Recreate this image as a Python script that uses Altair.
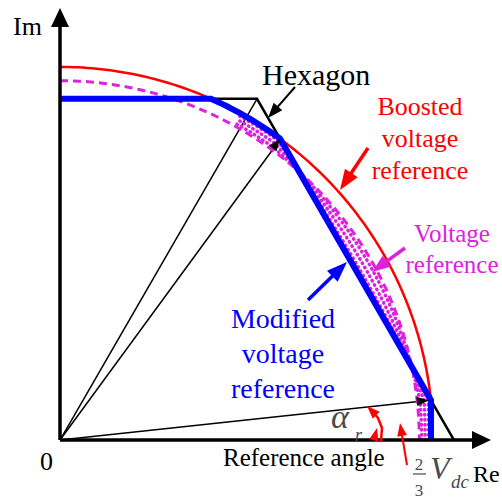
import numpy as np
import pandas as pd
import altair as alt

# ---------------- data (unit: 2/3 Vdc = 1) ----------------
hex_x = [0.0, 0.5, 1.0]          # hexagon boundary (first sector)
hex_y = [0.866, 0.866, 0.0]
R_boost = 0.947                  # boosted voltage reference radius
R_ref = 0.912                    # voltage reference radius
ref_range = [0.0, 90.0]          # degrees
band_range = [0.0, 61.0]         # shaded region (degrees)
band_fracs = [0.2, 0.5, 0.8]

# canvas / pixel mapping of the reference drawing
W, H = 502, 501
OX, OY, U = 60.0, 440.0, 394.0   # origin pixel, pixels per unit


def P(x, y):
    return ((x - OX) / U, (OY - y) / U)


xs = alt.Scale(domain=[P(0, 0)[0], P(W, 0)[0]], nice=False, zero=False)
ys = alt.Scale(domain=[P(0, H)[1], P(0, 0)[1]], nice=False, zero=False)
X = lambda: alt.X("x:Q", scale=xs, axis=None)
Y = lambda: alt.Y("y:Q", scale=ys, axis=None)

HEAD = "M0,0L-0.75,2L0.75,2Z"
AXHEAD = "M0,0L-0.95,2L0.95,2Z"
FONT = "Liberation Serif"

# annotation geometry (pixel readings)
im_axis = [(60, 440), (60, 24)]
re_axis = [(60, 440), (476, 440)]
im_tip = (60, 8)
re_tip = (491, 440)
hex_arrow = [(295, 87), (268, 118)]
boost_arrow = [(368, 148), (340, 190)]
ref_arrow = [(405, 248), (372, 272)]
mod_arrow = [(308, 300), (347, 262)]
up_arrow = [(407, 465), (400, 423)]
alpha_arc = [(381, 441), (382, 428), (378, 418), (372, 411)]
alpha_tip = (367, 406)


def pdf(xx, yy, g=0):
    return pd.DataFrame({"x": list(xx), "y": list(yy), "o": list(range(len(xx))), "g": g})


def line(df, color, width, dash=None, cap="butt", join="miter"):
    kw = dict(color=color, strokeWidth=width, strokeCap=cap, strokeJoin=join)
    if dash:
        kw["strokeDash"] = dash
    return alt.Chart(df).mark_line(**kw).encode(x=X(), y=Y(), order="o:Q", detail="g:N")


def heads(rows, color, shape=HEAD):
    df = pd.DataFrame(rows, columns=["x", "y", "dx", "dy", "s"])
    df["a"] = np.degrees(np.arctan2(df.dx, df.dy)) % 360
    return alt.Chart(df).mark_point(shape=shape, filled=True, opacity=1, color=color,
                                    strokeWidth=0).encode(
        x=X(), y=Y(), angle=alt.Angle("a:Q", scale=None), size=alt.Size("s:Q", scale=None))


def text(rows, color, size, style="normal", align="left"):
    df = pd.DataFrame([(P(a, b)[0], P(a, b)[1], t) for a, b, t in rows], columns=["x", "y", "t"])
    return alt.Chart(df).mark_text(align=align, baseline="alphabetic", font=FONT,
                                   fontSize=size, fontStyle=style, color=color).encode(
        x=X(), y=Y(), text="t:N")


def arrow(pts, color, width, hsize):
    (tx, ty), (hx, hy) = P(*pts[0]), P(*pts[1])
    dx, dy = hx - tx, hy - ty
    n = np.hypot(dx, dy)
    back = np.sqrt(hsize) / U * 0.6
    ex, ey = hx - dx / n * back, hy - dy / n * back
    return [line(pdf([tx, ex], [ty, ey]), color, width),
            heads([(hx, hy, dx, dy, hsize)], color)]


# ---------------- geometry ----------------
inr = hex_y[0]
th_top = np.degrees(np.arcsin(inr / R_boost))
dd = np.degrees(np.arccos(inr / R_boost))
th_a, th_b = 30 + dd, 30 - dd
xb = R_boost * np.cos(np.radians(th_b))
yb = R_boost * np.sin(np.radians(th_b))
xa = R_boost * np.cos(np.radians(th_a))
ya = R_boost * np.sin(np.radians(th_a))

arc = np.radians(np.linspace(th_top, th_a, 30))
blue_x = [0.0] + list(R_boost * np.cos(arc)) + [xb, xb]
blue_y = [inr] + list(R_boost * np.sin(arc)) + [yb, 0.0]

ra = np.radians(np.linspace(90, th_b, 120))
red_x, red_y = R_boost * np.cos(ra), R_boost * np.sin(ra)

ma = np.radians(np.linspace(ref_range[1], ref_range[0], 120))
mag_x, mag_y = R_ref * np.cos(ma), R_ref * np.sin(ma)


def r_blue(t):
    tr = np.radians(t)
    return np.where(t <= th_b, xb / np.cos(tr),
                    np.where(t < th_a, inr / np.cos(tr - np.radians(30)), R_boost))


bt = np.linspace(band_range[0], band_range[1], 150)
band = []
for i, f in enumerate(band_fracs):
    r = R_ref + f * (r_blue(bt) - R_ref)
    band.append(pdf(r * np.cos(np.radians(bt)), r * np.sin(np.radians(bt)), g=i))
band_df = pd.concat(band)

RED, BLUE, MAG, GRAY = "#ff0000", "#0000ff", "#dd22dd", "#4a4a4a"

layers = []
# thin lines from origin
thin = pd.concat([pdf([0, hex_x[1]], [0, hex_y[1]], 0),
                  pdf([0, xa - 0.01], [0, ya - 0.016], 1),
                  pdf([0, xb - 0.02], [0, yb - 0.002], 2)])
layers.append(line(thin, "black", 1.5))
layers.append(line(pdf(hex_x, hex_y), "black", 2.5))
layers.append(line(band_df, MAG, 3.5, dash=[0.5, 4.5], cap="round"))
layers.append(line(pdf(mag_x, mag_y), MAG, 3, dash=[8, 5]))
layers.append(line(pdf(red_x, red_y), RED, 2.5))
layers.append(line(pdf(blue_x, blue_y), BLUE, 6))
layers.append(heads([(xa, ya, xa, ya, 150), (xb - 0.005, yb, xb, yb, 150)], "black"))

# axes
layers.append(line(pdf(*zip(*[P(*p) for p in im_axis])), "black", 3.5))
layers.append(line(pdf(*zip(*[P(*p) for p in re_axis])), "black", 3.5))
layers.append(heads([(*P(*im_tip), 0, 1, 361), (*P(*re_tip), 1, 0, 361)], "black", AXHEAD))

# annotation arrows
layers += arrow(hex_arrow, "black", 2, 230)
layers += arrow(boost_arrow, RED, 3.5, 420)
layers += arrow(ref_arrow, MAG, 3.5, 330)
layers += arrow(mod_arrow, BLUE, 3.5, 420)
layers += arrow(up_arrow, RED, 2, 170)
aa = [P(*p) for p in alpha_arc]
layers.append(line(pdf([p[0] for p in aa], [p[1] for p in aa]), RED, 2.5, cap="round", join="round"))
at = P(*alpha_tip)
layers.append(heads([(at[0], at[1], at[0] - aa[-1][0], at[1] - aa[-1][1], 170),
                     (*P(377, 428), 0.25, 1, 160)], RED))

# fraction bar
layers.append(line(pdf(*zip(*[P(413, 474), P(426, 474)])), GRAY, 1.2))

# texts
layers.append(text([(13, 35, "Im"), (40, 470, "0")], "black", 26))
layers.append(text([(473, 482, "Re")], "black", 24))
layers.append(text([(262, 85, "Hexagon")], "black", 30))
layers.append(text([(223, 466, "Reference angle")], "black", 25))
layers.append(text([(420, 115, "Boosted"), (420, 147, "voltage"), (420, 179, "reference")],
                   RED, 26, align="center"))
layers.append(text([(452, 242, "Voltage"), (452, 273, "reference")], MAG, 25, align="center"))
layers.append(text([(283, 328, "Modified"), (283, 363, "voltage"), (283, 398, "reference")],
                   BLUE, 28, align="center"))
layers.append(text([(331, 428, "α")], GRAY, 34, style="italic"))
layers.append(text([(355, 441, "r")], GRAY, 18, style="italic"))
layers.append(text([(419, 470, "2"), (419, 496, "3")], GRAY, 17, align="center"))
layers.append(text([(430, 479, "V")], GRAY, 32, style="italic"))
layers.append(text([(451, 488, "dc")], GRAY, 19, style="italic"))

chart = alt.layer(*layers).properties(
    width=W, height=H, padding=0, autosize="none"
).configure_view(stroke=None)

chart.save("out.html", embed_options={"renderer": "svg", "actions": False})
